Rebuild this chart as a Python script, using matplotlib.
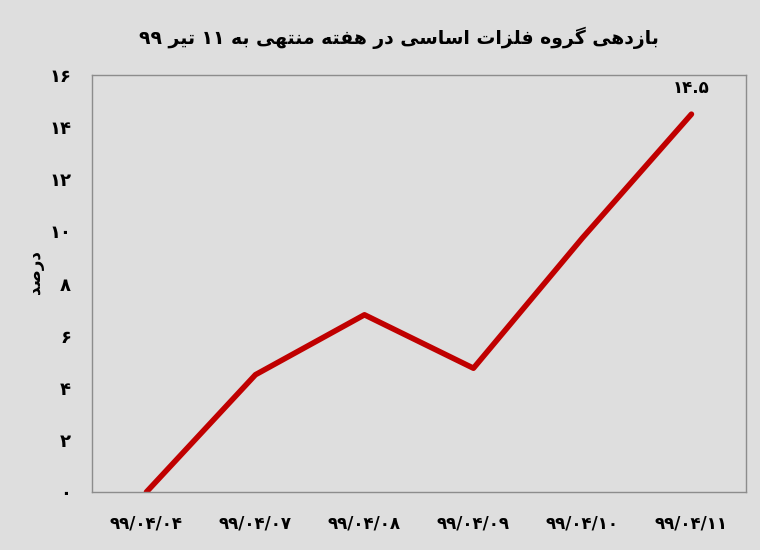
import matplotlib
matplotlib.use("Agg")
import matplotlib.pyplot as plt

# ---------------- data ----------------
categories = ["۹۹/۰۴/۰۴", "۹۹/۰۴/۰۷", "۹۹/۰۴/۰۸", "۹۹/۰۴/۰۹", "۹۹/۰۴/۱۰", "۹۹/۰۴/۱۱"]
returns = [0.0, 4.5, 6.8, 4.75, 9.75, 14.5]
y_ticks = [0, 2, 4, 6, 8, 10, 12, 14, 16]
title_text = "بازدهی گروه فلزات اساسی در هفته منتهی به ۱۱ تیر ۹۹"
ylabel_text = "درصد"
last_label = "۱۴.۵"

# ------------- minimal Arabic/Persian shaping -------------
FORMS = {  # isolated, final, initial, medial (None => right-joining only)
    "ا": ("\uFE8D", "\uFE8E", None, None),
    "ب": ("\uFE8F", "\uFE90", "\uFE91", "\uFE92"),
    "ت": ("\uFE95", "\uFE96", "\uFE97", "\uFE98"),
    "د": ("\uFEA9", "\uFEAA", None, None),
    "ر": ("\uFEAD", "\uFEAE", None, None),
    "ز": ("\uFEAF", "\uFEB0", None, None),
    "س": ("\uFEB1", "\uFEB2", "\uFEB3", "\uFEB4"),
    "ص": ("\uFEB9", "\uFEBA", "\uFEBB", "\uFEBC"),
    "ف": ("\uFED1", "\uFED2", "\uFED3", "\uFED4"),
    "ل": ("\uFEDD", "\uFEDE", "\uFEDF", "\uFEE0"),
    "م": ("\uFEE1", "\uFEE2", "\uFEE3", "\uFEE4"),
    "ن": ("\uFEE5", "\uFEE6", "\uFEE7", "\uFEE8"),
    "ه": ("\uFEE9", "\uFEEA", "\uFEEB", "\uFEEC"),
    "و": ("\uFEED", "\uFEEE", None, None),
    "ی": ("\uFBFC", "\uFBFD", "\uFBFE", "\uFBFF"),
    "گ": ("\uFB92", "\uFB93", "\uFB94", "\uFB95"),
}


def dual(c):
    return c in FORMS and FORMS[c][2] is not None


def shape(text):
    out = []
    n = len(text)
    for i, c in enumerate(text):
        if c not in FORMS:
            out.append(c)
            continue
        prev = text[i - 1] if i > 0 else ""
        nxt = text[i + 1] if i < n - 1 else ""
        jp = dual(prev)
        jn = dual(c) and nxt in FORMS
        iso, fin, ini, med = FORMS[c]
        if jp and jn:
            out.append(med)
        elif jp:
            out.append(fin)
        elif jn:
            out.append(ini)
        else:
            out.append(iso)
    s = "".join(out)[::-1]
    # restore left-to-right order of digit runs
    digits = set("۰۱۲۳۴۵۶۷۸۹0123456789.")
    res, run = [], []
    for ch in s:
        if ch in digits:
            run.append(ch)
        else:
            if run:
                res.extend(run[::-1])
                run = []
            res.append(ch)
    res.extend(run[::-1])
    return "".join(res)


def fa_digits(v):
    return str(v).translate(str.maketrans("0123456789", "۰۱۲۳۴۵۶۷۸۹"))


# ---------------- plot ----------------
plt.rcParams["font.family"] = ["DejaVu Sans"]
bg = "#dedede"
fig = plt.figure(figsize=(7.6, 5.5), dpi=100, facecolor=bg)
ax = fig.add_axes([0.121, 0.1055, 0.8605, 0.758])
ax.set_facecolor(bg)

x = list(range(len(categories)))
ax.plot(x, returns, color="#c00000", linewidth=4, solid_capstyle="round")

ax.set_xlim(-0.5, len(categories) - 0.5)
ax.set_ylim(0, 16)
ax.set_xticks(x)
ax.set_xticklabels(categories, fontsize=12, fontweight="bold")
ax.set_yticks(y_ticks)
ax.set_yticklabels([fa_digits(t) for t in y_ticks], fontsize=13, fontweight="bold")
ax.tick_params(length=0)
ax.tick_params(axis="x", pad=16)
ax.tick_params(axis="y", pad=15)
for sp in ax.spines.values():
    sp.set_color("#8c8c8c")
    sp.set_linewidth(1)

ax.annotate(last_label, (x[-1], returns[-1]), xytext=(0, 12), textcoords="offset points",
            ha="center", va="bottom", fontsize=12, fontweight="bold")

fig.text(0.046, 0.505, shape(ylabel_text), rotation=90, ha="center", va="center",
         fontsize=12, fontweight="bold")
fig.text(0.525, 0.932, shape(title_text), ha="center", va="center", fontsize=13.5, fontweight="bold")

fig.savefig("out.png", dpi=100, facecolor=bg)
